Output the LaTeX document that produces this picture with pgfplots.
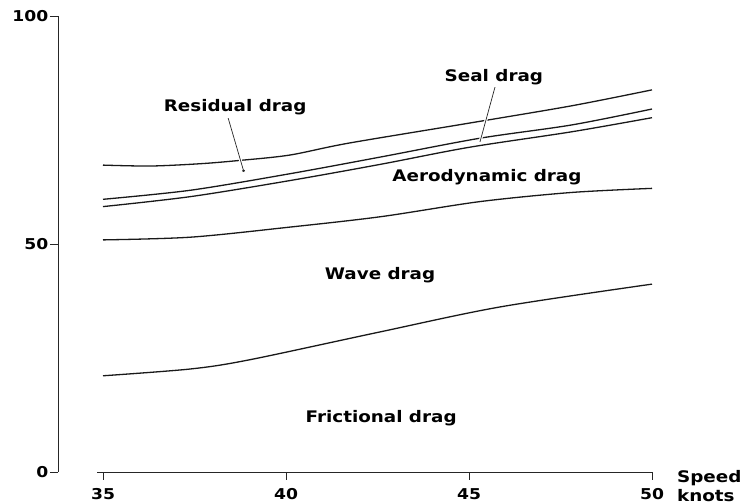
\documentclass[border=0pt]{standalone}
\usepackage{fontspec}
\setmainfont{DejaVu Sans}[FakeStretch=1.15]
\usepackage{pgfplots}
\pgfplotsset{compat=1.18}
\usetikzlibrary{arrows.meta}
\begin{document}
\begin{tikzpicture}
\useasboundingbox (0,0) rectangle (752bp,504bp);
\begin{axis}[
  at={(97bp,32bp)}, anchor=south west,
  scale only axis, width=555bp, height=456bp,
  xmin=34.836, xmax=50, ymin=0, ymax=100,
  axis lines=left,
  axis line style={-, line width=0.9bp, black!85},
  axis y line shift=39bp,
  xtick={35,40,45,50}, ytick={0,50,100},
  tick align=outside,
  major tick length=8bp,
  tick style={line width=0.9bp, black!85},
  /pgf/number format/assume math mode=true,
  ticklabel style={font=\bfseries\fontsize{15}{15}\selectfont},
  xticklabel style={yshift=-5bp},
  yticklabel style={inner sep=1.5bp},
  clip=false,
  curve/.style={black!90, line width=1.3bp, smooth, no marks},
]
% Total (residual drag upper boundary)
\addplot[curve] coordinates {(35,67.3)(36.3,67.1)(37.65,67.6)(38.7,68.3)(40.1,69.5)(41.7,72.1)(45.0,76.5)(47.8,80.3)(50,83.8)};
% Seal drag upper boundary
\addplot[curve] coordinates {(35,59.8)(37.4,61.8)(40.1,65.4)(42.6,69.1)(45.3,73.2)(47.8,76.1)(50,79.6)};
% Aerodynamic drag upper boundary
\addplot[curve] coordinates {(35,58.2)(37.4,60.4)(40.1,63.9)(42.6,67.5)(45.0,71.2)(47.8,74.6)(50,77.7)};
% Wave drag upper boundary
\addplot[curve] coordinates {(35,50.9)(37.4,51.5)(40.1,53.7)(42.6,56.0)(45.3,59.3)(47.8,61.3)(50,62.2)};
% Frictional drag upper boundary
\addplot[curve] coordinates {(35,21.1)(37.4,22.6)(39.0,24.6)(42.5,30.6)(45.85,36.2)(50,41.2)};

\draw[line width=0.7bp, black!85, -{Circle[length=2.6bp]},
      preaction={draw, white, line width=3bp, -}]
  (axis cs:38.42,77.6) -- (axis cs:38.85,65.8);
\draw[line width=0.7bp, black!85,
      preaction={draw, white, line width=3bp}]
  (axis cs:45.71,84.4) -- (axis cs:45.30,72.4);

\tikzset{lbl/.style={font=\bfseries\fontsize{16}{16}\selectfont, inner sep=0pt}}
\node[lbl] at (axis cs:38.61,80.0) {Residual drag};
\node[lbl] at (axis cs:45.68,86.6) {Seal drag};
\node[lbl] at (axis cs:45.49,64.7) {Aerodynamic drag};
\node[lbl] at (axis cs:42.57,43.2) {Wave drag};
\node[lbl] at (axis cs:42.60,11.8) {Frictional drag};
\node[lbl, anchor=base west] at (axis cs:50.68,-2.4) {Speed};
\node[lbl, anchor=base west] at (axis cs:50.68,-6.4) {knots};
\end{axis}
\end{tikzpicture}
\end{document}
